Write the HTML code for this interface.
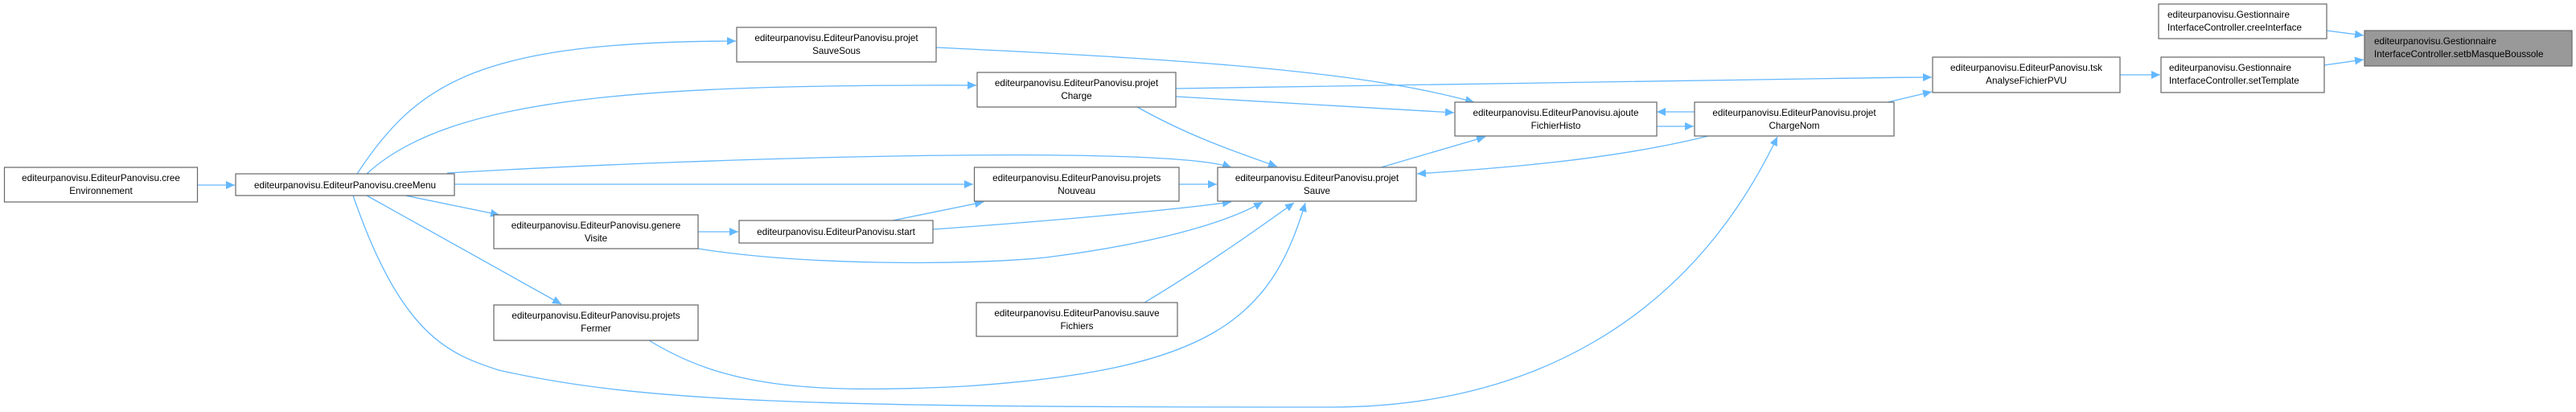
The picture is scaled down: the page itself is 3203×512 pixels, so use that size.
<!DOCTYPE html>
<html><head><meta charset="utf-8"><style>
html,body{margin:0;padding:0;background:#fff;}
svg{display:block;}
text{font-family:"Liberation Sans",Arial,sans-serif;font-size:11.7px;fill:#000;}
.b{fill:#fff;stroke:#666;stroke-width:1.2;}
.e{fill:none;stroke:#63b8ff;stroke-width:1.3;}
</style></head><body>
<svg width="3203" height="512" viewBox="0 0 3203 512" xmlns="http://www.w3.org/2000/svg">
<defs>
<marker id="a" markerUnits="userSpaceOnUse" markerWidth="12" markerHeight="10" refX="11" refY="5" orient="auto">
<path d="M0,0 L11,5 L0,10 Z" fill="#63b8ff"/>
</marker>
</defs>
<!-- edges -->
<g class="e" marker-end="url(#a)">
<path d="M245,230 L292,230"/>
<path d="M444,216 C520,100 600,52 915,51"/>
<path d="M456,216 C560,120 800,105 1214,106"/>
<path d="M556,215 C900,195 1450,180 1531,208"/>
<path d="M565,229 L1210,229"/>
<path d="M504,243 L621,267"/>
<path d="M456,243 L698,378"/>
<path d="M439,243 C500,420 560,440 620,460 C800,500 1000,506 1654,506 C1900,506 2100,400 2210,170"/>
<path d="M868,288 L918,288"/>
<path d="M868,309 C1000,330 1200,330 1300,320 C1420,305 1520,280 1570,251"/>
<path d="M1110,274 L1223,251"/>
<path d="M1160,285 C1300,275 1450,262 1531,251"/>
<path d="M807,423 C900,480 1000,490 1200,480 C1500,460 1580,400 1623,252"/>
<path d="M1423,376 C1500,330 1570,280 1609,252"/>
<path d="M1466,229 L1513,229"/>
<path d="M1414,133 C1480,170 1540,190 1588,207"/>
<path d="M1462,120 L1808,140"/>
<path d="M1462,110 C1800,105 2100,98 2402,96"/>
<path d="M1164,59 C1500,75 1700,90 1833,127"/>
<path d="M1717,208 L1847,170"/>
<path d="M2107,139 L2060,139"/>
<path d="M2060,157 L2106,157"/>
<path d="M2124,169 C2000,200 1850,210 1762,216"/>
<path d="M2347,127 L2402,114"/>
<path d="M2636,93 L2686,93"/>
<path d="M2890,81 L2939,74"/>
<path d="M2893,38 L2939,44"/>
</g>
<!-- nodes -->
<rect class="b" x="5.5" y="208" width="240" height="43"/>
<text x="125.5" y="225" text-anchor="middle">editeurpanovisu.EditeurPanovisu.cree</text>
<text x="125.5" y="241" text-anchor="middle">Environnement</text>

<rect class="b" x="293" y="216" width="272" height="27"/>
<text x="429" y="234" text-anchor="middle">editeurpanovisu.EditeurPanovisu.creeMenu</text>

<rect class="b" x="614" y="267" width="254" height="42"/>
<text x="741" y="284" text-anchor="middle">editeurpanovisu.EditeurPanovisu.genere</text>
<text x="741" y="300" text-anchor="middle">Visite</text>

<rect class="b" x="614" y="379" width="254" height="44"/>
<text x="741" y="396" text-anchor="middle">editeurpanovisu.EditeurPanovisu.projets</text>
<text x="741" y="412" text-anchor="middle">Fermer</text>

<rect class="b" x="916" y="34" width="248" height="43"/>
<text x="1040" y="51" text-anchor="middle">editeurpanovisu.EditeurPanovisu.projet</text>
<text x="1040" y="67" text-anchor="middle">SauveSous</text>

<rect class="b" x="919" y="274" width="241" height="28"/>
<text x="1039.5" y="292" text-anchor="middle">editeurpanovisu.EditeurPanovisu.start</text>

<rect class="b" x="1215" y="90" width="247" height="43"/>
<text x="1338.5" y="107" text-anchor="middle">editeurpanovisu.EditeurPanovisu.projet</text>
<text x="1338.5" y="123" text-anchor="middle">Charge</text>

<rect class="b" x="1211.5" y="208" width="254.5" height="42"/>
<text x="1338.7" y="225" text-anchor="middle">editeurpanovisu.EditeurPanovisu.projets</text>
<text x="1338.7" y="241" text-anchor="middle">Nouveau</text>

<rect class="b" x="1214" y="376" width="250" height="42"/>
<text x="1339" y="393" text-anchor="middle">editeurpanovisu.EditeurPanovisu.sauve</text>
<text x="1339" y="409" text-anchor="middle">Fichiers</text>

<rect class="b" x="1514" y="208" width="247" height="42"/>
<text x="1637.5" y="225" text-anchor="middle">editeurpanovisu.EditeurPanovisu.projet</text>
<text x="1637.5" y="241" text-anchor="middle">Sauve</text>

<rect class="b" x="1809" y="127" width="251" height="42"/>
<text x="1934.5" y="144" text-anchor="middle">editeurpanovisu.EditeurPanovisu.ajoute</text>
<text x="1934.5" y="160" text-anchor="middle">FichierHisto</text>

<rect class="b" x="2107" y="127" width="248" height="42"/>
<text x="2231" y="144" text-anchor="middle">editeurpanovisu.EditeurPanovisu.projet</text>
<text x="2231" y="160" text-anchor="middle">ChargeNom</text>

<rect class="b" x="2403" y="71" width="233" height="44"/>
<text x="2519.5" y="88" text-anchor="middle">editeurpanovisu.EditeurPanovisu.tsk</text>
<text x="2519.5" y="104" text-anchor="middle">AnalyseFichierPVU</text>

<rect class="b" x="2687" y="71" width="203" height="44"/>
<text x="2697" y="88">editeurpanovisu.Gestionnaire</text>
<text x="2697" y="104">InterfaceController.setTemplate</text>

<rect class="b" x="2684" y="5" width="209" height="43"/>
<text x="2695" y="22">editeurpanovisu.Gestionnaire</text>
<text x="2695" y="38">InterfaceController.creeInterface</text>

<rect x="2940" y="38" width="258" height="44" fill="#999" stroke="#666" stroke-width="1.2"/>
<text x="2952" y="55">editeurpanovisu.Gestionnaire</text>
<text x="2952" y="71">InterfaceController.setbMasqueBoussole</text>
</svg>
</body></html>
